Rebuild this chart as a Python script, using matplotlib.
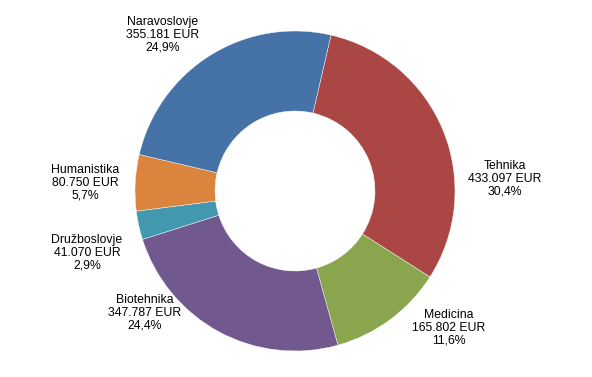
import matplotlib.pyplot as plt

plt.rcParams['font.family'] = ['Liberation Sans', 'DejaVu Sans']

# Data (clockwise from the top)
categories = ['Tehnika', 'Medicina', 'Biotehnika', 'Družboslovje', 'Humanistika', 'Naravoslovje']
values = [433097, 165802, 347787, 41070, 80750, 355181]
value_labels = ['433.097 EUR', '165.802 EUR', '347.787 EUR', '41.070 EUR', '80.750 EUR', '355.181 EUR']
pct_labels = ['30,4%', '11,6%', '24,4%', '2,9%', '5,7%', '24,9%']
colors = ['#AA4643', '#89A54E', '#71588F', '#4198AF', '#DB843D', '#4572A7']

# label anchor positions in pixels (x, y from top)
label_pos = [(505, 179), (449, 328), (145, 313), (87, 253), (85, 183), (163, 35)]

W, H = 592, 377
fig = plt.figure(figsize=(W / 100, H / 100), dpi=100)
ax = fig.add_axes([0, 0, 1, 1])
ax.axis('off')

ax.pie(values, colors=colors, startangle=77, counterclock=False,
       center=(295, H - 191), radius=160,
       wedgeprops=dict(width=80, edgecolor='white', linewidth=0.3))
ax.set_xlim(0, W)
ax.set_ylim(0, H)
ax.set_aspect('equal')

for cat, vl, pl, (x, y) in zip(categories, value_labels, pct_labels, label_pos):
    ax.text(x, H - y, f'{cat}\n{vl}\n{pl}', ha='center', va='center',
            fontsize=8.8, color='black', linespacing=1.1)

fig.savefig('out.png', dpi=100)
